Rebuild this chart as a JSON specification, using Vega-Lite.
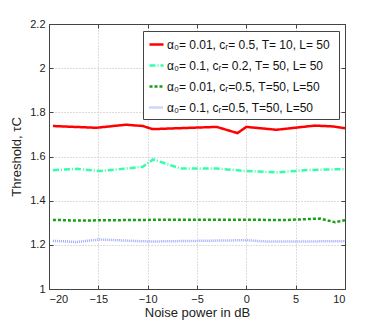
{
  "$schema": "https://vega.github.io/schema/vega-lite/v6.json",
  "width": 296,
  "height": 265,
  "autosize": "none",
  "padding": {"left": 49, "top": 24, "right": 37, "bottom": 37},
  "background": "white",
  "config": {
    "font": "Liberation Sans",
    "view": {"stroke": "#444", "strokeWidth": 1},
    "axis": {"labelFont": "Liberation Sans", "titleFont": "Liberation Sans", "labelFontSize": 11, "titleFontSize": 13, "titleFontWeight": "normal", "labelColor": "#222", "titleColor": "#222", "domainColor": "#444", "tickColor": "#444"}
  },
  "datasets": {
    "d": [
      {"s": "a", "x": -19.6, "y": 1.738}, {"s": "a", "x": -15.2, "y": 1.730}, {"s": "a", "x": -12.2, "y": 1.744}, {"s": "a", "x": -10.5, "y": 1.738}, {"s": "a", "x": -9.5, "y": 1.724}, {"s": "a", "x": -3.0, "y": 1.734}, {"s": "a", "x": -0.9, "y": 1.706}, {"s": "a", "x": 0.0, "y": 1.734}, {"s": "a", "x": 3.06, "y": 1.721}, {"s": "a", "x": 6.95, "y": 1.740}, {"s": "a", "x": 8.8, "y": 1.736}, {"s": "a", "x": 10, "y": 1.728},
      {"s": "b", "x": -19.6, "y": 1.538}, {"s": "b", "x": -17.1, "y": 1.544}, {"s": "b", "x": -14.9, "y": 1.534}, {"s": "b", "x": -10.5, "y": 1.553}, {"s": "b", "x": -9.45, "y": 1.587}, {"s": "b", "x": -6.7, "y": 1.546}, {"s": "b", "x": -3.0, "y": 1.546}, {"s": "b", "x": 0.0, "y": 1.534}, {"s": "b", "x": 3.06, "y": 1.528}, {"s": "b", "x": 6.4, "y": 1.539}, {"s": "b", "x": 10, "y": 1.543},
      {"s": "c", "x": -19.6, "y": 1.313}, {"s": "c", "x": -17.2, "y": 1.310}, {"s": "c", "x": -10.0, "y": 1.313}, {"s": "c", "x": 0.0, "y": 1.314}, {"s": "c", "x": 3.8, "y": 1.312}, {"s": "c", "x": 7.5, "y": 1.319}, {"s": "c", "x": 9.0, "y": 1.302}, {"s": "c", "x": 10, "y": 1.312},
      {"s": "d", "x": -19.6, "y": 1.218}, {"s": "d", "x": -17.2, "y": 1.213}, {"s": "d", "x": -14.9, "y": 1.224}, {"s": "d", "x": -9.8, "y": 1.215}, {"s": "d", "x": 0.0, "y": 1.221}, {"s": "d", "x": 2.0, "y": 1.215}, {"s": "d", "x": 10, "y": 1.216}
    ]
  },
  "data": {"name": "d"},
  "resolve": {"axis": {"x": "independent", "y": "independent"}},
  "layer": [
    {
      "mark": {"type": "line", "strokeWidth": 2.5, "clip": true},
      "encoding": {
        "x": {"field": "x", "type": "quantitative", "scale": {"domain": [-20, 10], "nice": false},
          "axis": {"title": "Noise power in dB", "values": [-20, -15, -10, -5, 0, 5, 10], "grid": true, "gridDash": [1, 2], "gridColor": "#bbb", "tickSize": -4, "labelPadding": 8, "titlePadding": 2, "labelExpr": "replace(datum.label, '-', '\u2212')"}},
        "y": {"field": "y", "type": "quantitative", "scale": {"domain": [1, 2.2], "nice": false},
          "axis": {"title": "Threshold, \u03c4C", "format": ".1~f", "values": [1, 1.2, 1.4, 1.6, 1.8, 2, 2.2], "grid": true, "gridDash": [1, 2], "gridColor": "#bbb", "tickSize": -4, "labelPadding": 8, "titlePadding": 6}},
        "color": {"field": "s", "type": "nominal",
          "scale": {"domain": ["a", "b", "c", "d"], "range": ["#ff0000", "#33ffaa", "#16a016", "#a0a8ff"]},
          "legend": {
            "orient": "none", "legendX": 94, "legendY": 7, "title": null,
            "labelExpr": "datum.value == 'a' ? '\u03b1\u2080= 0.01,  c\u1d63= 0.5, T= 10, L= 50' : datum.value == 'b' ? '\u03b1\u2080= 0.1,  c\u1d63= 0.2, T= 50, L= 50' : datum.value == 'c' ? '\u03b1\u2080= 0.01, c\u1d63=0.5, T=50, L=50' : '\u03b1\u2080= 0.1, c\u1d63=0.5, T=50, L=50'",
            "symbolType": "stroke", "symbolSize": 196, "symbolStrokeWidth": 2.5,
            "labelFontSize": 12, "labelFont": "Liberation Sans", "labelColor": "#111", "labelLimit": 300,
            "rowPadding": 6, "padding": 5, "fillColor": "white", "strokeColor": "#444", "labelOffset": 2
          }},
        "strokeDash": {"field": "s", "type": "nominal",
          "scale": {"domain": ["a", "b", "c", "d"], "range": [[1, 0], [6, 2, 1, 2], [3, 2], [1, 1]]},
          "legend": null}
      }
    },
    {
      "mark": {"type": "point", "opacity": 0},
      "encoding": {
        "x": {"field": "x", "type": "quantitative", "axis": {"orient": "top", "labels": false, "title": null, "values": [-20, -15, -10, -5, 0, 5, 10], "tickSize": -4, "grid": false}},
        "y": {"field": "y", "type": "quantitative", "axis": {"orient": "right", "labels": false, "title": null, "values": [1, 1.2, 1.4, 1.6, 1.8, 2, 2.2], "tickSize": -4, "grid": false}}
      }
    }
  ]
}
